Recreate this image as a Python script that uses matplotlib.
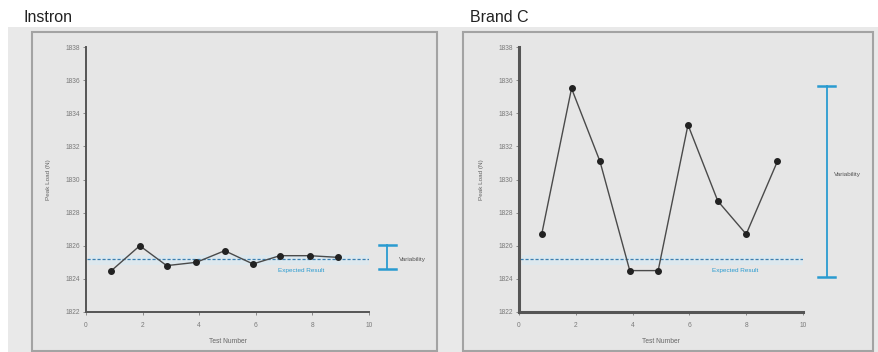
import matplotlib
matplotlib.use("Agg")
import matplotlib.pyplot as plt
from matplotlib.patches import Rectangle

plt.rcParams['font.family'] = ['Liberation Sans', 'DejaVu Sans']

# Peak load readings per test (test position, load in N)
instron_x = [0.9, 1.9, 2.85, 3.9, 4.9, 5.9, 6.85, 7.9, 8.9]
instron_y = [1824.5, 1826.0, 1824.8, 1825.0, 1825.7, 1824.9, 1825.4, 1825.4, 1825.3]

brandc_x = [0.8, 1.85, 2.85, 3.9, 4.9, 5.95, 7.0, 8.0, 9.1]
brandc_y = [1826.7, 1835.5, 1831.1, 1824.5, 1824.5, 1833.3, 1828.7, 1826.7, 1831.1]

expected_result = 1825.2
y_ticks = [1822, 1824, 1826, 1828, 1830, 1832, 1834, 1836, 1838]
x_ticks = [0, 2, 4, 6, 8, 10]

W, H = 879, 352
fig = plt.figure(figsize=(W / 100, H / 100), dpi=100)
fig.patch.set_facecolor('white')


def px_rect(x0, y0, x1, y1, **kw):
    # rectangle given in pixel coordinates measured from the top-left corner
    r = Rectangle((x0 / W, 1 - y1 / H), (x1 - x0) / W, (y1 - y0) / H,
                  transform=fig.transFigure, **kw)
    fig.patches.append(r)


def px_axes(x0, y0, x1, y1):
    return fig.add_axes([x0 / W, 1 - y1 / H, (x1 - x0) / W, (y1 - y0) / H])


# panel backgrounds and frames (kept behind the axes)
px_rect(8, 27, 878, 353, facecolor='#e9e9e9', edgecolor='none', zorder=-3)
px_rect(32, 32, 437, 351, facecolor='#e6e6e6', edgecolor='#a3a3a3', linewidth=1.5, zorder=-2)
px_rect(463, 32, 873, 351, facecolor='#e6e6e6', edgecolor='#a3a3a3', linewidth=1.5, zorder=-2)

fig.text(24 / W, 1 - 17 / H, 'Instron', fontsize=11.5, color='#222222', va='center', ha='left')
fig.text(470 / W, 1 - 17 / H, 'Brand C', fontsize=11.5, color='#222222', va='center', ha='left')

blue = '#2a9bd0'
panels = [
    (px_axes(86, 47, 369, 312), instron_x, instron_y, 1.4,
     (10.65, 1824.6, 1826.05), (11.05, 1825.2), (7.6, 1824.5)),
    (px_axes(519, 47, 803, 312), brandc_x, brandc_y, 2.2,
     (10.83, 1824.1, 1835.65), (11.1, 1830.3), (7.6, 1824.5)),
]

for ax, xs, ys, spw, vbar, vtext, etext in panels:
    ax.set_facecolor('none')
    ax.set_xlim(0, 10)
    ax.set_ylim(1822, 1838)
    ax.set_xticks(x_ticks)
    ax.set_yticks(y_ticks)
    for s in ('top', 'right'):
        ax.spines[s].set_visible(False)
    for s in ('left', 'bottom'):
        ax.spines[s].set_color('#555555')
        ax.spines[s].set_linewidth(spw)
    ax.tick_params(labelsize=4.8, colors='#7a7a7a', length=2, width=0.6, pad=2)
    ax.tick_params(axis='x', pad=5)
    ax.set_ylabel('Peak Load (N)', fontsize=4.6, color='#666666', labelpad=11)
    ax.set_xlabel('Test Number', fontsize=4.8, color='#666666', labelpad=7)

    # expected result reference line with light band
    ax.axhspan(expected_result - 0.35, expected_result + 0.25, xmin=0.01, xmax=1.0,
               color='#d8ebf4', alpha=0.6, lw=0, zorder=1)
    ax.axhline(expected_result, xmin=0.005, xmax=1.0, color='#3b7fb0',
               linestyle=(0, (2.5, 1.5)), linewidth=0.9, zorder=2)
    ax.text(etext[0], etext[1], 'Expected Result', fontsize=4.6, color=blue,
            ha='center', va='center', zorder=3)

    ax.plot(xs, ys, color='#4a4a4a', linewidth=1.0, marker='o', markersize=4.0,
            markerfacecolor='#222222', markeredgecolor='#222222', zorder=4)

    # variability bracket drawn outside the plotting area
    vx, vlo, vhi = vbar
    ax.plot([vx, vx], [vlo, vhi], color=blue, linewidth=1.3, clip_on=False, zorder=5)
    for yv in (vlo, vhi):
        ax.plot([vx - 0.3, vx + 0.3], [yv, yv], color=blue, linewidth=1.8,
                clip_on=False, zorder=5)
    ax.text(vtext[0], vtext[1], 'Variability', fontsize=4.6, color='#555555',
            ha='left', va='center', clip_on=False)

fig.savefig('out.png', dpi=100, facecolor=fig.get_facecolor())
